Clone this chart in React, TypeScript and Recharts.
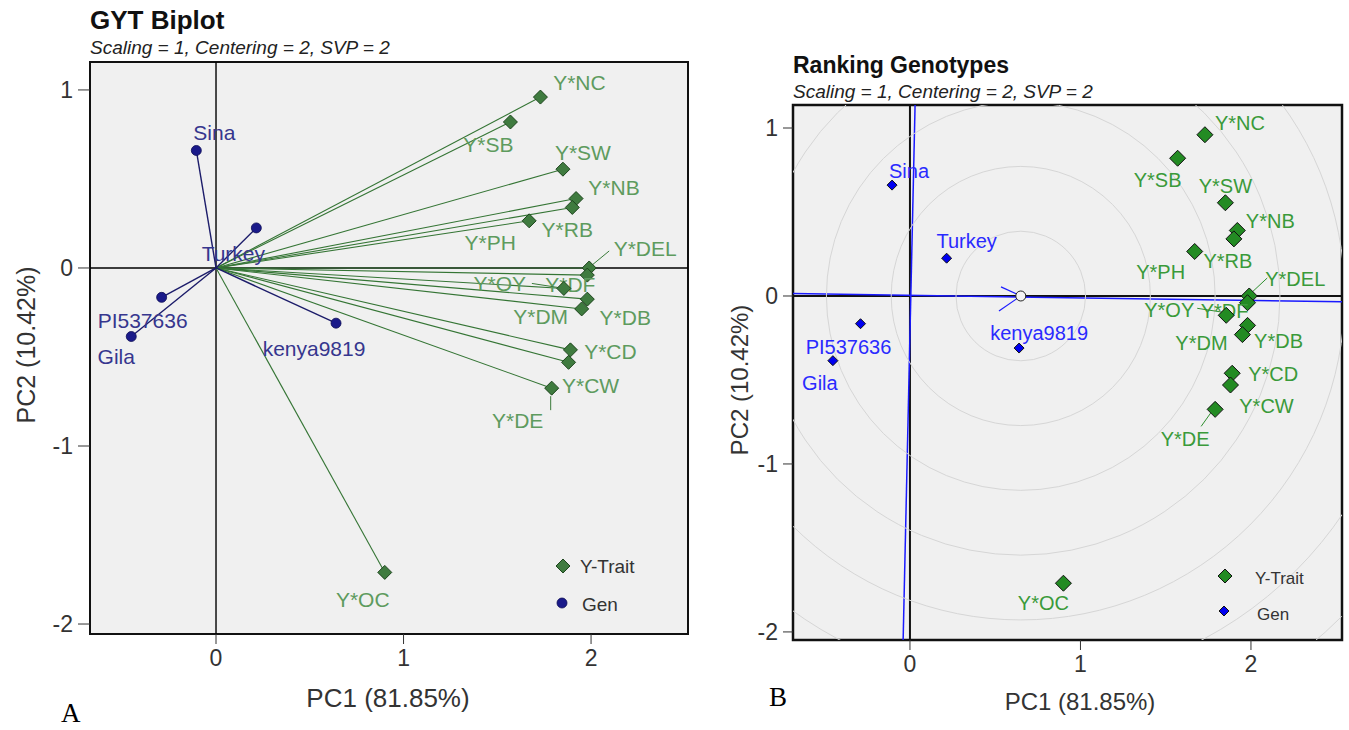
import React from "react";
import { ScatterChart, Scatter, XAxis, YAxis, ReferenceLine, ReferenceArea } from "recharts";

// trait vectors (PC1, PC2)
const traitNames = ["Y*NC", "Y*SB", "Y*SW", "Y*NB", "Y*RB", "Y*PH", "Y*DEL", "Y*DF", "Y*OY", "Y*DB", "Y*DM", "Y*CD", "Y*CW", "Y*DE", "Y*OC"];
const traitPC1 = [1.73, 1.57, 1.85, 1.92, 1.9, 1.67, 1.99, 1.98, 1.855, 1.98, 1.95, 1.89, 1.88, 1.79, 0.9];
const traitPC2 = [0.96, 0.82, 0.555, 0.39, 0.34, 0.265, 0.0, -0.04, -0.115, -0.175, -0.23, -0.46, -0.53, -0.675, -1.71];

// genotype scores
const genNames = ["Sina", "Turkey", "PI537636", "Gila", "kenya9819"];
const genPC1 = [-0.105, 0.215, -0.29, -0.452, 0.64];
const genPC2 = [0.66, 0.225, -0.165, -0.385, -0.31];

// ideal point on the average axis and ring spacing
const idealPC1 = 0.65;
const idealPC2 = 0;
const ringStep = 0.38;
const ringCount = 8;

const xTicks = [0, 1, 2];
const yTicks = [-2, -1, 0, 1];

const X_DOMAIN_A: [number, number] = [-0.672, 2.517];
const Y_DOMAIN_A: [number, number] = [-2.056, 1.157];
const X_DOMAIN_B: [number, number] = [-0.686, 2.534];
const Y_DOMAIN_B: [number, number] = [-2.048, 1.137];

const traits = traitNames.map((name, i) => ({ name, pc1: traitPC1[i], pc2: traitPC2[i] }));
const gens = genNames.map((name, i) => ({ name, pc1: genPC1[i], pc2: genPC2[i] }));
const ideal = [{ name: "ideal", pc1: idealPC1, pc2: idealPC2 }];

const FONT = '"Liberation Sans", Arial, Helvetica, sans-serif';
const SERIF = '"Liberation Serif", "Times New Roman", serif';
const BG = "#f0f0f0";

// label placement relative to marker (px)
const labelPosA: Record<string, [number, number]> = {
  "Y*NC": [39, -15], "Y*SB": [-22, 23], "Y*SW": [20, -17], "Y*NB": [38, -11], "Y*RB": [-5, 22],
  "Y*PH": [-39, 22], "Y*DEL": [56, -19], "Y*DF": [-17, 9], "Y*OY": [-64, -5], "Y*DB": [38, 18],
  "Y*DM": [-41, 8], "Y*CD": [40, 2], "Y*CW": [22, 23], "Y*DE": [-34, 32], "Y*OC": [-22, 27],
  Sina: [18, -18], Turkey: [-23, 26], PI537636: [-19, 23], Gila: [-15, 20], kenya9819: [-22, 25],
};
const leadersA: Record<string, number[]> = {
  "Y*DEL": [3, -3, 20, -17], "Y*OY": [-32, -5, -6, -1], "Y*DE": [-1, 8, -1, 22],
};
const labelPosB: Record<string, [number, number]> = {
  "Y*NC": [35, -12], "Y*SB": [-20, 22], "Y*SW": [0, -17], "Y*NB": [33, -9], "Y*RB": [-6, 22],
  "Y*PH": [-34, 21], "Y*DEL": [46, -17], "Y*DF": [-23, 8], "Y*OY": [-57, -5], "Y*DB": [31, 16],
  "Y*DM": [-41, 8], "Y*CD": [41, 1], "Y*CW": [36, 21], "Y*DE": [-30, 30], "Y*OC": [-20, 20],
  Sina: [17, -14], Turkey: [20, -17], PI537636: [-12, 23], Gila: [-13, 22], kenya9819: [20, -15],
};
const leadersB: Record<string, number[]> = {
  "Y*DEL": [3, -4, 18, -18], "Y*OY": [-29, -7, -3, -3], "Y*DE": [-4, 3, -14, 17],
};

const diamond = (cx: number, cy: number, r: number) =>
  `M${cx},${cy - r}L${cx + r},${cy}L${cx},${cy + r}L${cx - r},${cy}Z`;

function makeMark(opts: {
  pos: Record<string, [number, number]>;
  leaders: Record<string, number[]>;
  kind: "diamond" | "circle";
  size: number;
  fill: string;
  stroke: string;
  textColor: string;
  leaderColor: string;
  fontSize: number;
}) {
  return (props: any) => {
    const { cx, cy, payload } = props;
    const [dx, dy] = opts.pos[payload.name] || [0, -15];
    const ld = opts.leaders[payload.name];
    return (
      <g>
        {ld && (
          <line x1={cx + ld[0]} y1={cy + ld[1]} x2={cx + ld[2]} y2={cy + ld[3]} stroke={opts.leaderColor} strokeWidth={1} />
        )}
        {opts.kind === "diamond" ? (
          <path d={diamond(cx, cy, opts.size)} fill={opts.fill} stroke={opts.stroke} strokeWidth={1} />
        ) : (
          <circle cx={cx} cy={cy} r={opts.size} fill={opts.fill} stroke={opts.stroke} strokeWidth={0.8} />
        )}
        <text
          x={cx + dx}
          y={cy + dy}
          textAnchor="middle"
          dominantBaseline="central"
          fontFamily={FONT}
          fontSize={opts.fontSize}
          fill={opts.textColor}
        >
          {payload.name}
        </text>
      </g>
    );
  };
}

const TraitMarkA = makeMark({ pos: labelPosA, leaders: leadersA, kind: "diamond", size: 7, fill: "#3f7b3f", stroke: "#1d451d", textColor: "#5e9b5e", leaderColor: "#3a7a3a", fontSize: 21 });
const GenMarkA = makeMark({ pos: labelPosA, leaders: leadersA, kind: "circle", size: 5, fill: "#1a1a8a", stroke: "#0d0d55", textColor: "#36368e", leaderColor: "#26267a", fontSize: 21 });
const TraitMarkB = makeMark({ pos: labelPosB, leaders: leadersB, kind: "diamond", size: 8, fill: "#238b23", stroke: "#111", textColor: "#3a9a3a", leaderColor: "#2f8f2f", fontSize: 20 });
const GenMarkB = makeMark({ pos: labelPosB, leaders: leadersB, kind: "diamond", size: 5, fill: "#0000f0", stroke: "#111", textColor: "#2a2aff", leaderColor: "#2a2aff", fontSize: 20 });

// plot area of the ranking chart (chart-local px)
const B_LEFT = 83;
const B_TOP = 105;
const B_W = 549;
const B_H = 535;
const pxPerUnitB = B_W / (X_DOMAIN_B[1] - X_DOMAIN_B[0]);

function IdealMark(props: any) {
  const { cx, cy } = props;
  const rings = Array.from({ length: ringCount }, (_, i) => (i + 1) * ringStep * pxPerUnitB);
  return (
    <g>
      <defs>
        <clipPath id="rankClip">
          <rect x={B_LEFT} y={B_TOP} width={B_W} height={B_H} />
        </clipPath>
      </defs>
      <g clipPath="url(#rankClip)">
        {rings.map((r) => (
          <circle key={r} cx={cx} cy={cy} r={r} fill="none" stroke="#d6d6d6" strokeWidth={1} />
        ))}
      </g>
    </g>
  );
}

function IdealDot(props: any) {
  const { cx, cy } = props;
  return <circle cx={cx} cy={cy} r={5} fill="#f4f4f4" stroke="#222" strokeWidth={1} />;
}

const tickStyle = { fontSize: 23, fill: "#333", fontFamily: FONT };

function Txt(props: {
  x: number; y: number; size: number; children: React.ReactNode;
  bold?: boolean; italic?: boolean; rotate?: boolean; color?: string; family?: string; left?: boolean;
}) {
  const { x, y, size, children, bold, italic, rotate, color = "#333", family = FONT, left } = props;
  const tf = left
    ? "translate(0,-50%)"
    : `translate(-50%,-50%)${rotate ? " rotate(-90deg)" : ""}`;
  return (
    <div
      style={{
        position: "absolute", left: x, top: y, transform: tf, whiteSpace: "nowrap",
        fontSize: size, fontWeight: bold ? 700 : 400, fontStyle: italic ? "italic" : "normal",
        color, fontFamily: family, lineHeight: 1,
      }}
    >
      {children}
    </div>
  );
}

function LegendIcon(props: { x: number; y: number; kind: "diamond" | "circle"; r: number; fill: string; stroke: string }) {
  const { x, y, kind, r, fill, stroke } = props;
  const s = r * 2 + 4;
  return (
    <svg style={{ position: "absolute", left: x - s / 2, top: y - s / 2 }} width={s} height={s}>
      {kind === "diamond" ? (
        <path d={diamond(s / 2, s / 2, r)} fill={fill} stroke={stroke} />
      ) : (
        <circle cx={s / 2} cy={s / 2} r={r} fill={fill} stroke={stroke} strokeWidth={0.8} />
      )}
    </svg>
  );
}

function BiplotPanel() {
  return (
    <>
      <div style={{ position: "absolute", left: 0, top: 0 }}>
        <ScatterChart width={700} height={730} margin={{ top: 62, right: 12, bottom: 56, left: 40 }}>
          <XAxis type="number" dataKey="pc1" domain={X_DOMAIN_A} ticks={xTicks} allowDataOverflow
            axisLine={false} tickSize={10} tickMargin={6} height={40} tick={tickStyle}
            tickLine={{ stroke: "#333" }} />
          <YAxis type="number" dataKey="pc2" domain={Y_DOMAIN_A} ticks={yTicks} allowDataOverflow
            axisLine={false} tickSize={12} tickMargin={5} width={50} tick={tickStyle}
            tickLine={{ stroke: "#333" }} />
          <ReferenceArea x1={X_DOMAIN_A[0]} x2={X_DOMAIN_A[1]} y1={Y_DOMAIN_A[0]} y2={Y_DOMAIN_A[1]}
            fill={BG} fillOpacity={1} stroke="none" />
          <ReferenceLine x={0} stroke="#000" strokeWidth={1.4} />
          <ReferenceLine y={0} stroke="#000" strokeWidth={1.4} />
          {traits.map((t) => (
            <ReferenceLine key={t.name} segment={[{ x: 0, y: 0 }, { x: t.pc1, y: t.pc2 }]} stroke="#357535" strokeWidth={1.1} />
          ))}
          {gens.map((g) => (
            <ReferenceLine key={g.name} segment={[{ x: 0, y: 0 }, { x: g.pc1, y: g.pc2 }]} stroke="#1c1c6a" strokeWidth={1.4} />
          ))}
          <Scatter data={traits} shape={TraitMarkA} isAnimationActive={false} />
          <Scatter data={gens} shape={GenMarkA} isAnimationActive={false} />
          <ReferenceArea x1={X_DOMAIN_A[0]} x2={X_DOMAIN_A[1]} y1={Y_DOMAIN_A[0]} y2={Y_DOMAIN_A[1]}
            fill="none" stroke="#111" strokeWidth={2} />
        </ScatterChart>
      </div>
      <Txt x={90} y={20} size={26} bold color="#111" left>GYT Biplot</Txt>
      <Txt x={90} y={47} size={19} italic color="#222" left>Scaling = 1, Centering = 2, SVP = 2</Txt>
      <Txt x={388} y={698} size={26}>PC1 (81.85%)</Txt>
      <Txt x={26} y={345} size={25} rotate>PC2 (10.42%)</Txt>
      <Txt x={61} y={713} size={27} color="#000" family={SERIF} left>A</Txt>
      <LegendIcon x={563} y={566} kind="diamond" r={7} fill="#3f7b3f" stroke="#1d451d" />
      <Txt x={580} y={566} size={19} left>Y-Trait</Txt>
      <LegendIcon x={562} y={603} kind="circle" r={5} fill="#1a1a8a" stroke="#0d0d55" />
      <Txt x={582} y={604} size={19} left>Gen</Txt>
    </>
  );
}

function RankingPanel() {
  return (
    <>
      <div style={{ position: "absolute", left: 710, top: 0 }}>
        <ScatterChart width={639} height={730} margin={{ top: 105, right: 7, bottom: 50, left: 33 }}>
          <XAxis type="number" dataKey="pc1" domain={X_DOMAIN_B} ticks={xTicks} allowDataOverflow
            axisLine={false} tickSize={10} tickMargin={6} height={40} tick={tickStyle}
            tickLine={{ stroke: "#333" }} />
          <YAxis type="number" dataKey="pc2" domain={Y_DOMAIN_B} ticks={yTicks} allowDataOverflow
            axisLine={false} tickSize={10} tickMargin={5} width={50} tick={tickStyle}
            tickLine={{ stroke: "#333" }} />
          <ReferenceArea x1={X_DOMAIN_B[0]} x2={X_DOMAIN_B[1]} y1={Y_DOMAIN_B[0]} y2={Y_DOMAIN_B[1]}
            fill={BG} fillOpacity={1} stroke="none" />
          <Scatter data={ideal} shape={IdealMark} isAnimationActive={false} />
          <ReferenceLine x={0} stroke="#111" strokeWidth={2} />
          <ReferenceLine y={0} stroke="#111" strokeWidth={2} />
          {/* average environment axis and its perpendicular */}
          <ReferenceLine segment={[{ x: X_DOMAIN_B[0], y: 0.015 }, { x: X_DOMAIN_B[1], y: -0.035 }]} stroke="#1a1aff" strokeWidth={1.5} />
          <ReferenceLine segment={[{ x: 0.03, y: Y_DOMAIN_B[1] }, { x: -0.04, y: Y_DOMAIN_B[0] }]} stroke="#1a1aff" strokeWidth={1.5} />
          <ReferenceLine segment={[{ x: 0.534, y: 0.054 }, { x: idealPC1, y: idealPC2 }]} stroke="#1a1aff" strokeWidth={1.2} />
          <ReferenceLine segment={[{ x: 0.522, y: -0.089 }, { x: idealPC1, y: idealPC2 }]} stroke="#1a1aff" strokeWidth={1.2} />
          <Scatter data={ideal} shape={IdealDot} isAnimationActive={false} />
          <Scatter data={traits} shape={TraitMarkB} isAnimationActive={false} />
          <Scatter data={gens} shape={GenMarkB} isAnimationActive={false} />
          <ReferenceArea x1={X_DOMAIN_B[0]} x2={X_DOMAIN_B[1]} y1={Y_DOMAIN_B[0]} y2={Y_DOMAIN_B[1]}
            fill="none" stroke="#111" strokeWidth={2.5} />
        </ScatterChart>
      </div>
      <Txt x={793} y={65} size={23} bold color="#111" left>Ranking Genotypes</Txt>
      <Txt x={793} y={91} size={19} italic color="#222" left>Scaling = 1, Centering = 2, SVP = 2</Txt>
      <Txt x={1080} y={702} size={24}>PC1 (81.85%)</Txt>
      <Txt x={740} y={380} size={24} rotate>PC2 (10.42%)</Txt>
      <Txt x={769} y={697} size={27} color="#000" family={SERIF} left>B</Txt>
      <LegendIcon x={1225} y={576} kind="diamond" r={7} fill="#238b23" stroke="#111" />
      <Txt x={1255} y={578} size={17} left>Y-Trait</Txt>
      <LegendIcon x={1224} y={611} kind="diamond" r={5} fill="#0000f0" stroke="#111" />
      <Txt x={1257} y={614} size={17} left>Gen</Txt>
    </>
  );
}

export default function App() {
  return (
    <div
      style={{
        position: "fixed", left: 0, top: 0, width: 1349, height: 730,
        background: "#fff", overflow: "hidden", fontFamily: FONT,
      }}
    >
      <BiplotPanel />
      <RankingPanel />
    </div>
  );
}
